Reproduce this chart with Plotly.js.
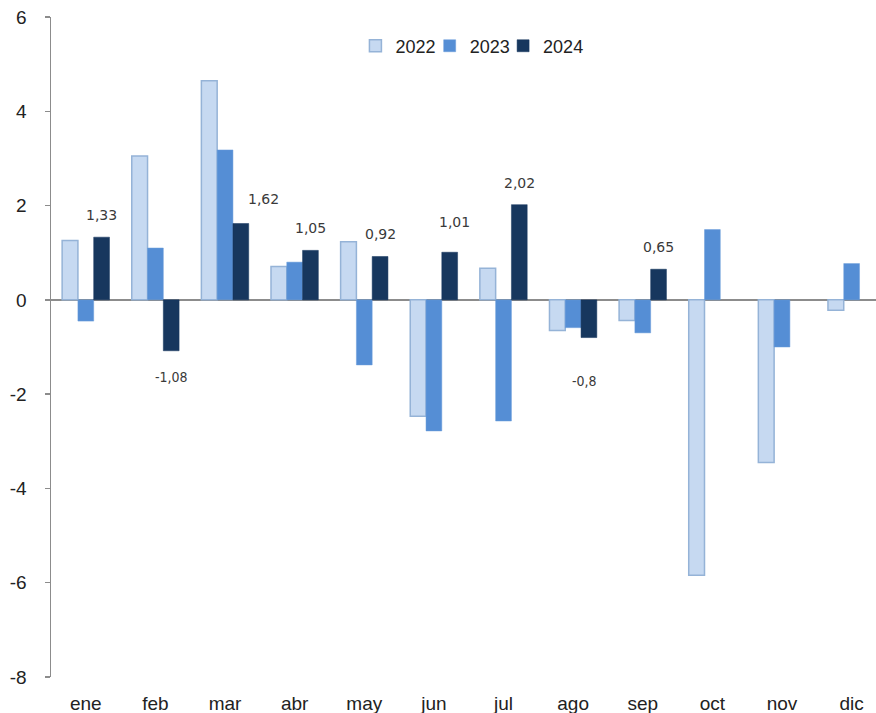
<!DOCTYPE html>
<html>
<head>
<meta charset="utf-8">
<script src="https://cdn.plot.ly/plotly-3.0.1.min.js"></script>
<style>
html,body{margin:0;padding:0;background:#fff;}
#chart{width:876px;height:713px;}
</style>
</head>
<body>
<div id="chart"></div>
<script>
var months = ["ene","feb","mar","abr","may","jun","jul","ago","sep","oct","nov","dic"];
var v2022 = [1.26, 3.05, 4.65, 0.71, 1.23, -2.47, 0.67, -0.65, -0.44, -5.84, -3.45, -0.22];
var v2023 = [-0.45, 1.10, 3.18, 0.80, -1.38, -2.78, -2.57, -0.59, -0.70, 1.49, -1.00, 0.77];
var v2024 = [1.33, -1.08, 1.62, 1.05, 0.92, 1.01, 2.02, -0.8, 0.65, null, null, null];
var labels2024 = ["1,33", "-1,08", "1,62", "1,05", "0,92", "1,01", "2,02", "-0,8", "0,65", "", "", ""];
var yTickVals = [-8, -6, -4, -2, 0, 2, 4, 6];
var yTickText = ["-8", "-6", "-4", "-2", "0", "2", "4", "6"];

var margin = {l: 51, r: 0, t: 17, b: 36};
var xRange = [-0.5, 11.35];
var bargap = 0.32;
var plotW = 876 - margin.l - margin.r;
var catPx = plotW / (xRange[1] - xRange[0]);
var barPx = catPx * (1 - bargap) / 3;

// label placement tweaks (pixels)
var labelTweak = {mar: {dx: 23, dy: 2}, jun: {dx: 5, dy: 8}, ago: {dx: -4, dy: -17}};

var traces = [
  {type: "bar", name: "2022", x: months, y: v2022, legend: "legend",
   marker: {color: "#c6d9f1", line: {color: "#95b3d7", width: 1.5}}},
  {type: "bar", name: "2023", x: months, y: v2023, legend: "legend2",
   marker: {color: "#558ed5", line: {color: "#6a9ddb", width: 0.5}}},
  {type: "bar", name: "2024", x: months, y: v2024, legend: "legend3",
   marker: {color: "#17375e", line: {color: "#17375e", width: 0.5}}}
];

var annotations = [];
for (var i = 0; i < months.length; i++) {
  if (v2024[i] === null) continue;
  var t = labelTweak[months[i]] || {dx: 0, dy: 0};
  var pos = v2024[i] >= 0;
  annotations.push({
    x: months[i], y: v2024[i], xref: "x", yref: "y",
    text: labels2024[i], showarrow: false,
    xanchor: "center", yanchor: "middle",
    xshift: barPx + t.dx,
    yshift: (pos ? 22 : -26) + t.dy,
    font: pos ? {family: "DejaVu Sans", size: 14, color: "#3a3a3a"}
              : {family: "DejaVu Sans Condensed, DejaVu Sans", size: 14, color: "#3a3a3a"}
  });
}

function legendAt(xp) {
  return {orientation: "h", x: xp, y: 0.956, xanchor: "left", yanchor: "middle",
          font: {family: "Liberation Sans", size: 18, color: "#222"},
          itemwidth: 30, bgcolor: "rgba(0,0,0,0)"};
}

var layout = {
  width: 876, height: 713,
  margin: margin,
  paper_bgcolor: "#ffffff", plot_bgcolor: "#ffffff",
  barmode: "group", bargap: bargap, bargroupgap: 0,
  showlegend: true,
  legend: legendAt(0.369),
  legend2: legendAt(0.459),
  legend3: legendAt(0.548),
  xaxis: {type: "category", range: xRange, showline: false, showgrid: false, zeroline: false,
          ticks: "", tickfont: {family: "Liberation Sans", size: 19, color: "#222"},
          ticklabelstandoff: 13, fixedrange: true},
  yaxis: {range: [-8, 6], tickmode: "array", tickvals: yTickVals, ticktext: yTickText,
          showgrid: false,
          showline: true, linecolor: "#8c8c8c", linewidth: 1.5,
          ticks: "outside", ticklen: 5, tickcolor: "#8c8c8c", tickwidth: 1.5,
          zeroline: true, zerolinecolor: "#8c8c8c", zerolinewidth: 1.5,
          tickfont: {family: "Liberation Sans", size: 19, color: "#222"},
          ticklabelstandoff: 14, fixedrange: true},
  annotations: annotations
};

Plotly.newPlot("chart", traces, layout, {displayModeBar: false, staticPlot: true});
</script>
</body>
</html>
